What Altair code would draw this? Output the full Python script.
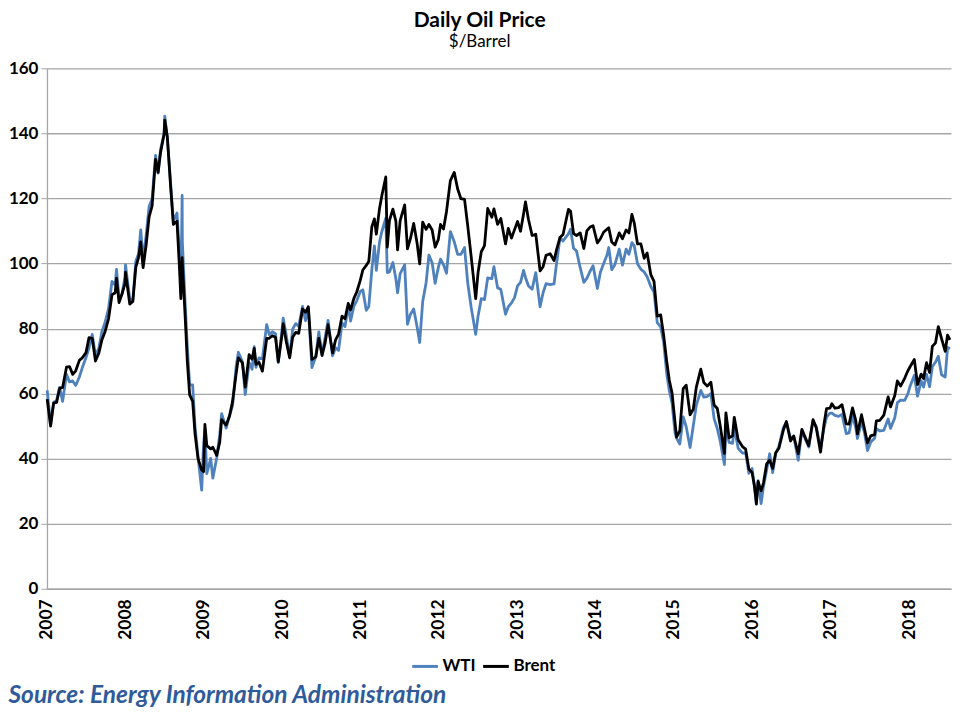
import altair as alt
import pandas as pd

# ---------------- data ----------------
dates = [
    "2007-01-02", "2007-01-18", "2007-02-01", "2007-02-15", "2007-03-01", "2007-03-15", "2007-04-02", "2007-04-16", "2007-05-01", "2007-05-15",
    "2007-06-01", "2007-06-15", "2007-07-02", "2007-07-16", "2007-07-31", "2007-08-15", "2007-08-31", "2007-09-14", "2007-09-28", "2007-10-15",
    "2007-10-31", "2007-11-15", "2007-11-21", "2007-12-03", "2007-12-17", "2007-12-31",
    "2008-01-02", "2008-01-22", "2008-02-05", "2008-02-19", "2008-03-03", "2008-03-13", "2008-03-24", "2008-04-07", "2008-04-21", "2008-05-05",
    "2008-05-21", "2008-06-02", "2008-06-13", "2008-06-30", "2008-07-03", "2008-07-15", "2008-07-31", "2008-08-12", "2008-08-29", "2008-09-10",
    "2008-09-16", "2008-09-22", "2008-09-23", "2008-10-06", "2008-10-16", "2008-10-27", "2008-11-10", "2008-11-21", "2008-12-05", "2008-12-22",
    "2008-12-31",
    "2009-01-06", "2009-01-15", "2009-02-02", "2009-02-12", "2009-03-02", "2009-03-16", "2009-03-25", "2009-04-15", "2009-05-01", "2009-05-15",
    "2009-06-01", "2009-06-11", "2009-06-30", "2009-07-13", "2009-07-31", "2009-08-14", "2009-08-24", "2009-09-01", "2009-09-15", "2009-10-01",
    "2009-10-21", "2009-11-02", "2009-11-16", "2009-12-01", "2009-12-14", "2009-12-31",
    "2010-01-06", "2010-01-20", "2010-02-05", "2010-02-19", "2010-03-05", "2010-03-19", "2010-04-06", "2010-04-20", "2010-05-03", "2010-05-20",
    "2010-06-07", "2010-06-21", "2010-07-06", "2010-07-20", "2010-08-03", "2010-08-24", "2010-09-07", "2010-09-21", "2010-10-07", "2010-10-21",
    "2010-11-05", "2010-11-16", "2010-12-01", "2010-12-15", "2010-12-31",
    "2011-01-12", "2011-01-28", "2011-02-09", "2011-02-23", "2011-03-07", "2011-03-16", "2011-03-31", "2011-04-11", "2011-04-29", "2011-05-06",
    "2011-05-16", "2011-06-01", "2011-06-15", "2011-06-23", "2011-07-05", "2011-07-26", "2011-08-08", "2011-08-22", "2011-09-06", "2011-09-22",
    "2011-10-04", "2011-10-18", "2011-11-03", "2011-11-16", "2011-12-01", "2011-12-15", "2011-12-30",
    "2012-01-09", "2012-01-23", "2012-02-06", "2012-02-24", "2012-03-13", "2012-03-29", "2012-04-13", "2012-04-30", "2012-05-15", "2012-05-31",
    "2012-06-21", "2012-07-02", "2012-07-17", "2012-08-01", "2012-08-16", "2012-09-04", "2012-09-14", "2012-10-01", "2012-10-16", "2012-11-07",
    "2012-11-20", "2012-12-05", "2012-12-19",
    "2013-01-02", "2013-01-16", "2013-01-30", "2013-02-08", "2013-02-22", "2013-03-11", "2013-03-28", "2013-04-17", "2013-05-01", "2013-05-15",
    "2013-06-03", "2013-06-21", "2013-07-02", "2013-07-19", "2013-08-02", "2013-08-27", "2013-09-06", "2013-09-20", "2013-10-04", "2013-10-21",
    "2013-11-07", "2013-11-21", "2013-12-06", "2013-12-20",
    "2014-01-09", "2014-01-23", "2014-02-07", "2014-02-24", "2014-03-03", "2014-03-17", "2014-04-01", "2014-04-21", "2014-05-06", "2014-05-23",
    "2014-06-05", "2014-06-19", "2014-06-30", "2014-07-15", "2014-07-31", "2014-08-15", "2014-08-29", "2014-09-15", "2014-09-30", "2014-10-15",
    "2014-10-31", "2014-11-14", "2014-11-28", "2014-12-10", "2014-12-23",
    "2015-01-06", "2015-01-13", "2015-01-28", "2015-02-13", "2015-02-27", "2015-03-17", "2015-04-01", "2015-04-15", "2015-05-06", "2015-05-20",
    "2015-06-05", "2015-06-22", "2015-07-07", "2015-07-22", "2015-08-05", "2015-08-24", "2015-08-31", "2015-09-15", "2015-10-01", "2015-10-09",
    "2015-10-27", "2015-11-16", "2015-12-01", "2015-12-16", "2015-12-31",
    "2016-01-11", "2016-01-20", "2016-01-28", "2016-02-11", "2016-02-22", "2016-03-08", "2016-03-22", "2016-04-05", "2016-04-19", "2016-05-04",
    "2016-05-25", "2016-06-08", "2016-06-27", "2016-07-12", "2016-08-02", "2016-08-19", "2016-09-07", "2016-09-20", "2016-10-10", "2016-10-25",
    "2016-11-14", "2016-11-30", "2016-12-12", "2016-12-28",
    "2017-01-06", "2017-01-20", "2017-02-06", "2017-02-22", "2017-03-14", "2017-03-27", "2017-04-12", "2017-04-27", "2017-05-05", "2017-05-24",
    "2017-06-06", "2017-06-21", "2017-07-06", "2017-07-24", "2017-08-01", "2017-08-18", "2017-09-05", "2017-09-25", "2017-10-06", "2017-10-26",
    "2017-11-07", "2017-11-22", "2017-12-11", "2017-12-26",
    "2018-01-04", "2018-01-25", "2018-02-09", "2018-02-26", "2018-03-09", "2018-03-23", "2018-04-06", "2018-04-19", "2018-05-04", "2018-05-17",
    "2018-06-01", "2018-06-18", "2018-06-29", "2018-07-10",
]

wti = [
    61.0, 50.5, 57.3, 57.9, 61.9, 57.6, 65.9, 63.6, 63.9, 62.5, 65.1, 68.0, 71.1, 74.0, 78.2, 71.7, 74.0, 79.1, 81.7, 86.1, 94.5, 93.4, 98.2, 89.3, 90.6, 96.0,
    99.6, 89.0, 88.4, 100.7, 103.0, 110.3, 101.2, 108.5, 117.5, 119.9, 133.2, 127.8, 134.9, 140.0, 145.3, 138.7, 124.1, 113.0, 115.5, 102.6, 91.2, 120.9, 106.6, 87.8, 74.5, 62.7, 62.7, 49.9, 40.8, 30.3, 44.6,
    48.6, 35.4, 40.1, 34.0, 40.2, 47.3, 53.8, 49.4, 53.2, 56.3, 68.6, 72.7, 69.8, 59.7, 69.5, 67.5, 74.4, 68.1, 71.0, 70.7, 81.2, 78.1, 79.0, 78.4, 69.5, 79.4,
    83.2, 78.0, 71.2, 79.8, 81.5, 80.7, 86.8, 82.4, 86.2, 68.0, 71.5, 79.0, 71.9, 77.1, 82.5, 71.6, 74.1, 73.3, 81.7, 80.6, 87.0, 82.3, 86.8, 88.6, 91.4,
    91.9, 85.6, 86.8, 98.1, 105.4, 97.9, 106.7, 109.9, 113.9, 97.2, 97.4, 100.3, 95.3, 91.0, 96.9, 99.6, 81.3, 84.4, 86.0, 80.5, 75.7, 88.3, 94.1, 102.6, 100.2, 93.9, 98.8,
    101.3, 99.6, 97.0, 109.8, 106.7, 102.8, 102.8, 104.9, 93.9, 86.5, 78.2, 83.8, 89.2, 88.9, 95.6, 95.3, 99.0, 92.5, 92.1, 84.4, 86.7, 87.9, 89.5,
    93.1, 94.2, 97.9, 95.7, 93.1, 92.1, 97.2, 86.7, 91.0, 93.8, 93.5, 93.7, 99.6, 108.0, 106.9, 109.1, 110.5, 104.7, 103.8, 98.7, 94.2, 95.4, 97.6, 99.3,
    92.3, 97.3, 99.9, 102.8, 104.9, 98.1, 99.7, 104.4, 99.5, 104.4, 102.8, 106.4, 105.4, 99.9, 98.2, 97.4, 95.9, 92.9, 91.2, 81.8, 80.5, 75.8, 66.2, 61.0, 57.1,
    47.9, 46.3, 44.5, 52.8, 49.8, 43.4, 50.1, 56.4, 61.0, 58.9, 59.1, 60.0, 52.3, 49.2, 45.2, 38.2, 49.2, 45.0, 44.7, 49.6, 43.2, 41.7, 41.8, 35.5, 37.0,
    31.4, 26.7, 33.2, 26.2, 31.5, 36.5, 41.5, 35.7, 41.5, 43.8, 49.6, 51.2, 46.3, 46.8, 39.5, 48.5, 45.5, 43.6, 51.6, 49.9, 43.3, 49.4, 52.8, 54.0,
    54.0, 53.3, 53.0, 53.6, 47.7, 47.9, 53.1, 49.6, 46.2, 51.4, 48.2, 42.5, 45.1, 46.3, 49.2, 48.5, 48.7, 52.2, 49.3, 52.6, 57.2, 58.0, 57.9, 59.9,
    62.0, 65.6, 59.2, 63.9, 62.0, 65.9, 62.1, 68.3, 69.7, 71.5, 65.8, 65.1, 74.2, 73.8,
]

brent = [
    58.3, 50.0, 57.1, 57.3, 61.6, 61.9, 68.1, 68.3, 65.9, 67.0, 70.2, 71.0, 72.6, 77.2, 77.0, 70.0, 72.5, 76.5, 78.9, 83.0, 90.4, 91.0, 95.5, 88.0, 90.7, 93.9,
    97.3, 87.5, 88.3, 98.8, 101.9, 106.6, 98.7, 105.6, 114.3, 117.7, 132.0, 128.0, 134.0, 139.8, 144.1, 138.8, 123.0, 112.0, 113.0, 98.0, 89.2, 101.8, 100.0, 83.8, 70.0, 59.6, 57.6, 47.7, 40.0, 36.5, 36.0,
    50.5, 44.0, 43.0, 43.5, 41.0, 45.0, 52.0, 50.3, 53.2, 57.6, 66.3, 71.0, 69.4, 62.0, 72.0, 70.6, 73.9, 69.0, 69.6, 66.9, 77.0, 77.0, 77.8, 77.3, 69.8, 77.9,
    81.5, 76.0, 71.0, 77.3, 78.8, 78.5, 86.0, 85.0, 86.7, 70.5, 71.3, 77.0, 71.7, 75.5, 81.2, 72.5, 76.5, 78.3, 83.8, 83.0, 87.7, 85.7, 89.2, 91.3, 94.8,
    98.0, 99.4, 100.7, 111.3, 113.7, 109.0, 117.0, 121.0, 126.6, 105.0, 113.2, 116.7, 113.0, 104.2, 113.2, 118.0, 104.5, 107.7, 112.3, 106.2, 99.9, 112.7, 110.5, 112.0, 110.3, 105.0, 107.4,
    112.0, 110.6, 116.0, 125.5, 128.0, 122.9, 119.9, 119.7, 111.5, 102.1, 89.2, 97.2, 103.6, 105.5, 116.9, 114.2, 116.8, 112.0, 113.8, 106.0, 110.8, 107.8, 110.4,
    112.9, 109.9, 115.2, 118.9, 113.5, 108.6, 109.0, 97.7, 99.0, 102.5, 103.0, 100.9, 104.0, 108.0, 108.9, 116.6, 116.1, 109.2, 108.6, 109.4, 104.6, 110.0, 111.2, 111.6,
    106.3, 107.6, 109.6, 110.6, 111.0, 106.6, 105.7, 109.4, 107.6, 110.3, 109.4, 115.1, 112.4, 106.0, 106.0, 101.6, 103.2, 96.6, 94.5, 83.8, 84.2, 77.9, 70.0, 64.2, 60.2,
    51.1, 46.6, 48.5, 61.5, 62.6, 53.5, 55.2, 61.9, 67.5, 63.4, 62.3, 63.5, 56.5, 55.4, 49.9, 41.6, 54.1, 46.4, 47.0, 52.7, 45.8, 43.7, 42.9, 36.8, 35.7,
    31.6, 26.0, 33.0, 30.1, 32.5, 38.4, 39.5, 37.0, 41.8, 43.2, 48.8, 51.4, 45.4, 47.0, 41.5, 49.0, 46.0, 44.0, 52.0, 49.5, 42.0, 50.5, 55.4, 55.5,
    56.9, 55.5, 55.7, 56.6, 50.7, 50.6, 55.6, 51.8, 47.6, 53.5, 49.4, 44.8, 47.0, 47.4, 51.6, 51.8, 53.4, 59.0, 55.9, 59.4, 63.9, 62.3, 64.7, 67.0,
    68.1, 70.5, 62.8, 66.0, 64.6, 69.5, 66.5, 74.5, 75.6, 80.6, 76.9, 73.0, 78.0, 76.5,
]

series_names = ["WTI", "Brent"]
series_colors = ["#4f81bd", "#000000"]
year_ticks = list(range(2007, 2019))
y_ticks = [0, 20, 40, 60, 80, 100, 120, 140, 160]

assert len(dates) == len(wti) == len(brent)

df = pd.DataFrame({
    "date": dates + dates,
    "price": wti + brent,
    "series": ["WTI"] * len(dates) + ["Brent"] * len(dates),
})

FONT = "Lato"
GRID = "#a6a6a6"

color = alt.Color(
    "series:N",
    scale=alt.Scale(domain=series_names, range=series_colors),
    legend=alt.Legend(
        title=None, orient="none", direction="horizontal",
        legendX=364, legendY=584,
        symbolType="stroke", symbolSize=660, symbolStrokeWidth=3,
        labelFont=FONT, labelFontSize=17, labelFontWeight="bold", labelColor="black",
        labelOffset=3, columnPadding=0,
    ),
)

x = alt.X(
    "date:T",
    scale=alt.Scale(type="utc", domain=[alt.DateTime(year=2007, month=1, date=1, utc=True),
                                        alt.DateTime(year=2018, month=7, date=15, utc=True)]),
    axis=alt.Axis(
        values=[alt.DateTime(year=y, month=1, date=1, utc=True) for y in year_ticks],
        format="%Y", labelAngle=270, labelPadding=10,
        labelFont=FONT, labelFontSize=17.5, labelFontWeight="bold", labelColor="black",
        grid=False, ticks=False, domainColor=GRID, domainWidth=1.5,
        title="Source: Energy Information Administration",
        titleX=-39, titleY=114, titleAnchor="start", titleAlign="left", titleBaseline="alphabetic",
        titleFont=FONT, titleFontSize=24.5, titleFontStyle="italic", titleFontWeight="bold",
        titleColor="#2f5b9a",
    ),
)

y = alt.Y(
    "price:Q",
    scale=alt.Scale(domain=[0, 160], nice=False),
    axis=alt.Axis(
        values=y_ticks, title=None,
        gridColor=GRID, gridWidth=1.3, domainColor=GRID, domainWidth=1.3,
        tickColor=GRID, tickSize=6, labelPadding=3,
        labelFont=FONT, labelFontSize=17, labelFontWeight="bold", labelColor="black",
    ),
)

base = alt.Chart(df).mark_line(strokeWidth=2.8, strokeJoin="round").encode(x=x, y=y, color=color)

wti_layer = base.transform_filter(alt.datum.series == "WTI")
brent_layer = base.transform_filter(alt.datum.series == "Brent")

chart = alt.layer(wti_layer, brent_layer).properties(
    width=905, height=521,
    padding={"left": 0, "top": 2, "right": 0, "bottom": 0},
    background="white",
    title=alt.TitleParams(
        "Daily Oil Price", subtitle="$/Barrel", anchor="middle", frame="bounds",
        font=FONT, fontSize=21, fontWeight="bold", color="black",
        subtitleFont=FONT, subtitleFontSize=17, subtitleColor="black", subtitlePadding=3,
        offset=9,
    ),
).configure_view(stroke=None)

chart.save("out.html", embed_options={"renderer": "svg", "actions": False})
